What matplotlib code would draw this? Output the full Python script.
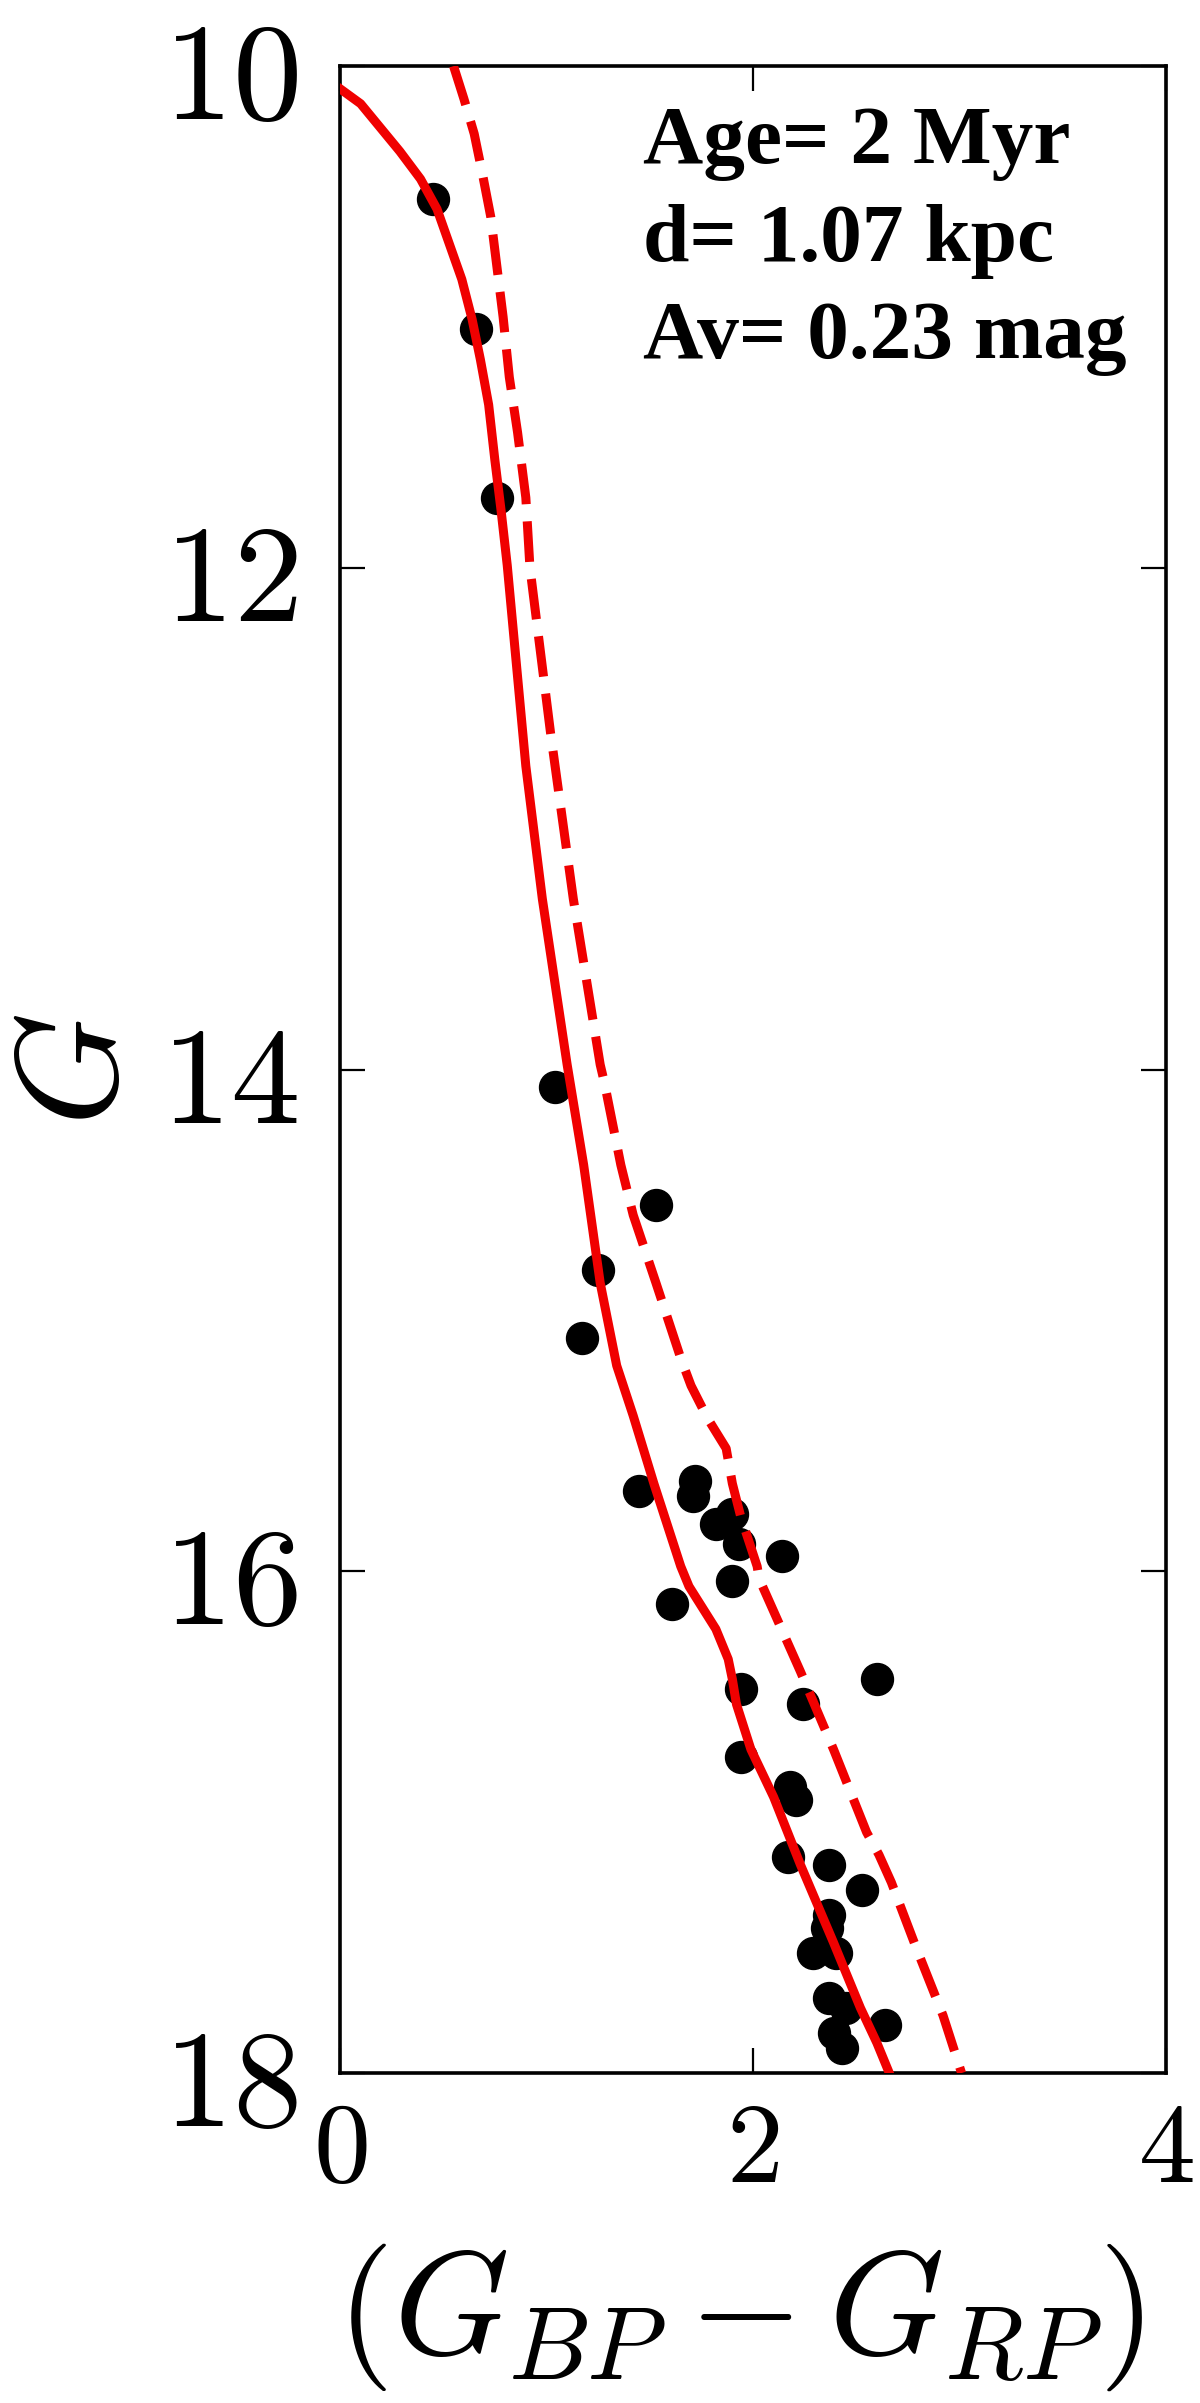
# -*- coding: utf-8 -*-

# colour-magnitude diagram with isochrone (solid) and shifted isochrone (dashed)

import matplotlib
matplotlib.use('Agg')
import matplotlib.pyplot as plt

plt.rcParams['mathtext.fontset'] = 'cm'

# isochrone, solid
iso_bp_rp = [0.00, 0.10, 0.19, 0.29, 0.39, 0.47, 0.53, 0.59, 0.64, 0.68, 0.72, 0.75,
             0.78, 0.81, 0.90, 0.98, 1.10, 1.18, 1.26, 1.34, 1.42, 1.52, 1.65, 1.69,
             1.82, 1.88, 1.90, 1.92, 1.99, 2.10, 2.23, 2.39, 2.52, 2.60, 2.66]
iso_g = [10.09, 10.15, 10.24, 10.34, 10.45, 10.57, 10.71, 10.85, 11.01, 11.17, 11.35, 11.57,
         11.77, 11.99, 12.79, 13.32, 13.98, 14.38, 14.85, 15.18, 15.38, 15.65, 15.98, 16.06,
         16.23, 16.35, 16.43, 16.53, 16.71, 16.90, 17.17, 17.48, 17.74, 17.88, 18.00]

# isochrone, dashed
iso2_bp_rp = [0.55, 0.60, 0.65, 0.69, 0.73, 0.76, 0.79, 0.82, 0.86, 0.90, 0.92, 1.02,
              1.13, 1.26, 1.28, 1.36, 1.42, 1.53, 1.65, 1.70, 1.78, 1.87, 1.90, 1.94,
              2.02, 2.03, 2.23, 2.39, 2.55, 2.61, 2.67, 2.79, 2.92, 3.01]
iso2_g = [10.00, 10.13, 10.27, 10.43, 10.60, 10.80, 11.00, 11.24, 11.46, 11.72, 12.00, 12.66,
          13.32, 13.98, 14.05, 14.38, 14.58, 14.85, 15.15, 15.26, 15.39, 15.51, 15.65, 15.78,
          15.98, 16.03, 16.40, 16.71, 17.04, 17.13, 17.24, 17.50, 17.77, 18.00]

# member stars
star_bp_rp = [0.45, 0.66, 0.76, 1.04, 1.53, 1.25, 1.17, 1.45, 1.72, 1.71, 1.82, 1.90,
              1.93, 2.14, 1.90, 1.61, 2.60, 1.94, 2.24, 1.94, 2.18, 2.21, 2.17, 2.37,
              2.53, 2.37, 2.36, 2.29, 2.40, 2.37, 2.45, 2.64, 2.39, 2.43]
star_g = [10.53, 11.05, 11.72, 14.07, 14.54, 14.80, 15.07, 15.68, 15.64, 15.70, 15.81, 15.77,
          15.89, 15.94, 16.04, 16.13, 16.43, 16.47, 16.53, 16.74, 16.86, 16.91, 17.14, 17.17,
          17.27, 17.37, 17.42, 17.52, 17.52, 17.70, 17.74, 17.81, 17.84, 17.90]

x_ticks = [0, 2, 4]
x_labels = ['$0$', '$2$', '$4$']
y_ticks = [10, 12, 14, 16, 18]
y_labels = ['$10$', '$12$', '$14$', '$16$', '$18$']

info_lines = ['Age= 2 Myr', 'd= 1.07 kpc', 'Av= 0.23 mag']

fig = plt.figure(figsize=(12, 24.03), dpi=100)
ax = fig.add_axes([0.2833, 0.1373, 0.6884, 0.8352])

ax.plot(star_bp_rp, star_g, 'o', color='black', markersize=23, zorder=2)
ax.plot(iso_bp_rp, iso_g, '-', color='#f00000', lw=6.5, zorder=3)
ax.plot(iso2_bp_rp, iso2_g, '--', color='#f00000', lw=6.5, dashes=(4.5, 1.9), zorder=3)

ax.set_xlim(0, 4)
ax.set_ylim(18, 10)

ax.set_xticks(x_ticks)
ax.set_xticklabels(x_labels, fontsize=82)
ax.set_yticks(y_ticks)
ax.set_yticklabels(y_labels, fontsize=100)
ax.tick_params(direction='in', length=18, width=1.6, top=True, right=True)
ax.tick_params(axis='x', pad=16)
ax.tick_params(axis='y', pad=30)

for s in ax.spines.values():
    s.set_linewidth(2.6)

ax.set_xlabel(r'$(G_{BP} - G_{RP})$', fontsize=106, va='center')
ax.xaxis.set_label_coords(0.484, -0.1216)
ax.set_ylabel(r'$G$', fontsize=104, va='center')
ax.yaxis.set_label_coords(-0.318, 0.5)

for i, line in enumerate(info_lines):
    ax.text(0.367, 0.9517 - i * 0.0486, line, transform=ax.transAxes,
            fontsize=60, fontweight='bold', family='Liberation Serif',
            ha='left', va='baseline')

fig.savefig('out.png', dpi=100)
